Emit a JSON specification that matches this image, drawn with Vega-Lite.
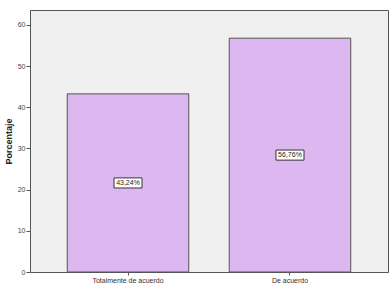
{
  "$schema": "https://vega.github.io/schema/vega-lite/v6.json",
  "autosize": {"type": "none"},
  "width": 358,
  "height": 262,
  "padding": {"left": 30, "top": 10, "right": 2, "bottom": 11},
  "background": "white",
  "config": {
    "view": {"fill": "#f0f0f0", "stroke": "#555555", "strokeWidth": 1},
    "font": "Liberation Sans"
  },
  "data": {
    "values": [
      {"categoria": "Totalmente de acuerdo", "pct": 43.24, "etiqueta": "43,24%"},
      {"categoria": "De acuerdo", "pct": 56.76, "etiqueta": "56,76%"}
    ]
  },
  "transform": [{"calculate": "datum.pct / 2", "as": "mitad"}],
  "encoding": {
    "x": {
      "field": "categoria",
      "type": "nominal",
      "sort": null,
      "scale": {"paddingInner": 0.25, "paddingOuter": 0.23},
      "axis": {
        "title": null,
        "labelAngle": 0,
        "labelFontSize": 7,
        "labelColor": "#333333",
        "labelPadding": 1,
        "tickSize": 3,
        "tickColor": "#555555",
        "domain": false
      }
    }
  },
  "layer": [
    {
      "mark": {"type": "bar", "fill": "#ddb8f0", "stroke": "#555555", "strokeWidth": 1},
      "encoding": {
        "y": {
          "field": "pct",
          "type": "quantitative",
          "scale": {"domain": [0, 63.6], "nice": false},
          "axis": {
            "title": "Porcentaje",
            "titleFontSize": 9,
            "titleFontWeight": "bold",
            "titleColor": "#222222",
            "titlePadding": 4,
            "values": [0, 10, 20, 30, 40, 50, 60],
            "labelFontSize": 7,
            "labelColor": "#444444",
            "labelPadding": 1,
            "tickSize": 4,
            "tickColor": "#555555",
            "grid": false,
            "domain": false
          }
        }
      }
    },
    {
      "mark": {
        "type": "point",
        "shape": "M-1,-0.36L1,-0.36L1,0.36L-1,0.36Z",
        "size": 784,
        "filled": true,
        "fill": "white",
        "stroke": "#333333",
        "strokeWidth": 1,
        "opacity": 1
      },
      "encoding": {"y": {"field": "mitad", "type": "quantitative"}}
    },
    {
      "mark": {"type": "text", "fontSize": 7, "color": "#222222"},
      "encoding": {
        "y": {"field": "mitad", "type": "quantitative"},
        "text": {"field": "etiqueta"}
      }
    }
  ]
}
